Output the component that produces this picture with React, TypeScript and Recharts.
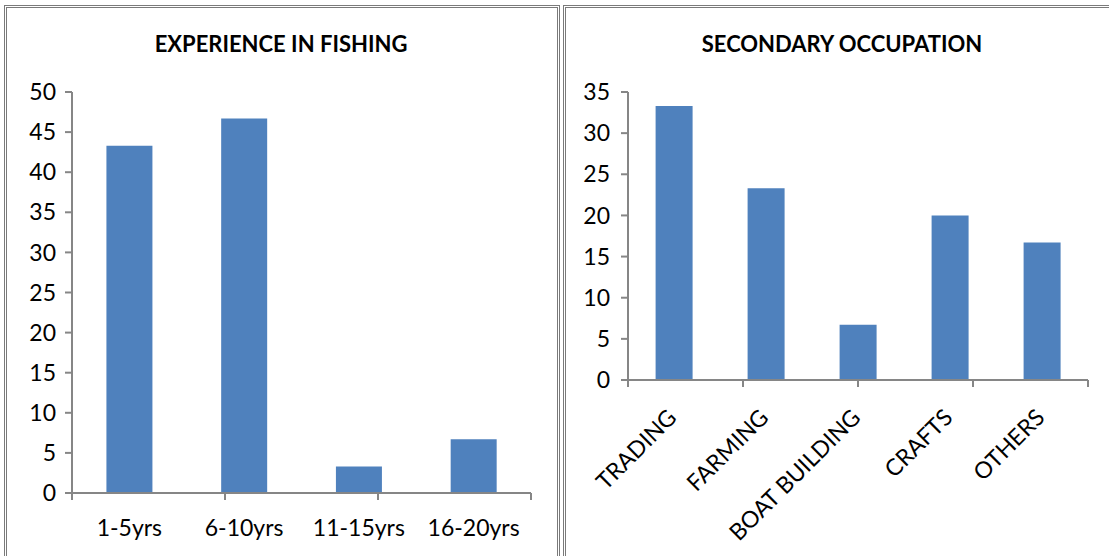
import React from "react";
import { BarChart, Bar, XAxis, YAxis } from "recharts";

// ─── Data ─────────────────────────────────────────────────
const experienceCategories = ["1-5yrs", "6-10yrs", "11-15yrs", "16-20yrs"];
const experienceValues = [43.3, 46.7, 3.3, 6.7];
const experienceTicks = [0, 5, 10, 15, 20, 25, 30, 35, 40, 45, 50];

const occupationCategories = ["TRADING", "FARMING", "BOAT BUILDING", "CRAFTS", "OTHERS"];
const occupationValues = [33.3, 23.3, 6.7, 20.0, 16.7];
const occupationTicks = [0, 5, 10, 15, 20, 25, 30, 35];

// ─── Style ────────────────────────────────────────────────
const FONT = "Lato, 'Open Sans', sans-serif";
const BAR_COLOR = "#4F81BD";
const AXIS_COLOR = "#868686";
const LABEL_SIZE = 23;

const experienceData = experienceCategories.map((name, i) => ({ name, value: experienceValues[i] }));
const occupationData = occupationCategories.map((name, i) => ({ name, value: occupationValues[i] }));

function FlatTick({ x, y, payload }: any) {
  return (
    <text x={x} y={y + 40} textAnchor="middle" fontSize={LABEL_SIZE} fill="#000" fontFamily={FONT}>
      {payload.value}
    </text>
  );
}

function SlantTick({ x, y, payload }: any) {
  const px = x + 4;
  const py = y + 36;
  return (
    <text
      x={px}
      y={py}
      textAnchor="end"
      fontSize={LABEL_SIZE}
      fill="#000"
      fontFamily={FONT}
      transform={`rotate(-45, ${px}, ${py})`}
    >
      {payload.value}
    </text>
  );
}

const emptyTick = () => <g />;

// box + title, drawn over the chart layer
function Panel({ left, width, title, titleX }: { left: number; width: number; title: string; titleX: number }) {
  return (
    <>
      <div
        style={{
          position: "absolute",
          left,
          top: 5,
          width,
          height: 600,
          borderTop: "3px double #7a7a7a",
          borderLeft: "3px double #7a7a7a",
          borderRight: "3px double #7a7a7a",
          boxSizing: "border-box",
          zIndex: 2,
          pointerEvents: "none",
        }}
      />
      <div
        style={{
          position: "absolute",
          left: titleX - 200,
          width: 400,
          top: 31,
          textAlign: "center",
          fontFamily: FONT,
          fontWeight: 700,
          fontSize: 22,
          lineHeight: "26px",
          color: "#000",
          zIndex: 2,
        }}
      >
        {title}
      </div>
    </>
  );
}

function ExperienceChart() {
  const n = experienceCategories.length;
  return (
    <div style={{ position: "absolute", left: 0, top: 0, zIndex: 1 }}>
      <BarChart
        width={560}
        height={556}
        data={experienceData}
        margin={{ top: 92, right: 29, bottom: 22, left: 12 }}
        barCategoryGap="30%"
      >
        <XAxis
          xAxisId={0}
          type="number"
          domain={[0, n]}
          ticks={Array.from({ length: n + 1 }, (_, i) => i)}
          allowDataOverflow
          height={1}
          axisLine={{ stroke: AXIS_COLOR, strokeWidth: 2 }}
          tickLine={{ stroke: AXIS_COLOR, strokeWidth: 2 }}
          tickSize={7}
          tick={emptyTick}
        />
        <XAxis
          xAxisId="cat"
          dataKey="name"
          height={40}
          axisLine={false}
          tickLine={false}
          tickSize={0}
          interval={0}
          tick={<FlatTick />}
        />
        <YAxis
          width={60}
          domain={[0, 50]}
          ticks={experienceTicks}
          interval={0}
          axisLine={{ stroke: AXIS_COLOR, strokeWidth: 2 }}
          tickLine={{ stroke: AXIS_COLOR, strokeWidth: 2 }}
          tickSize={7}
          tickMargin={9}
          tick={{ fontSize: LABEL_SIZE, fill: "#000", fontFamily: FONT }}
        />
        <Bar xAxisId="cat" dataKey="value" fill={BAR_COLOR} isAnimationActive={false} />
      </BarChart>
    </div>
  );
}

function OccupationChart() {
  const n = occupationCategories.length;
  return (
    <div style={{ position: "absolute", left: 560, top: 0, zIndex: 1 }}>
      <BarChart
        width={549}
        height={556}
        data={occupationData}
        margin={{ top: 92, right: 21, bottom: 55, left: 8 }}
        barCategoryGap="30%"
      >
        <XAxis
          xAxisId={0}
          type="number"
          domain={[0, n]}
          ticks={Array.from({ length: n + 1 }, (_, i) => i)}
          allowDataOverflow
          height={1}
          axisLine={{ stroke: AXIS_COLOR, strokeWidth: 2 }}
          tickLine={{ stroke: AXIS_COLOR, strokeWidth: 2 }}
          tickSize={7}
          tick={emptyTick}
        />
        <XAxis
          xAxisId="cat"
          dataKey="name"
          height={120}
          axisLine={false}
          tickLine={false}
          tickSize={0}
          interval={0}
          tick={<SlantTick />}
        />
        <YAxis
          width={60}
          domain={[0, 35]}
          ticks={occupationTicks}
          interval={0}
          axisLine={{ stroke: AXIS_COLOR, strokeWidth: 2 }}
          tickLine={{ stroke: AXIS_COLOR, strokeWidth: 2 }}
          tickSize={7}
          tickMargin={11}
          tick={{ fontSize: LABEL_SIZE, fill: "#000", fontFamily: FONT }}
        />
        <Bar xAxisId="cat" dataKey="value" fill={BAR_COLOR} isAnimationActive={false} />
      </BarChart>
    </div>
  );
}

export default function App() {
  return (
    <div
      style={{
        position: "absolute",
        left: 0,
        top: 0,
        width: 1109,
        height: 556,
        overflow: "hidden",
        background: "#fff",
        fontFamily: FONT,
      }}
    >
      <ExperienceChart />
      <OccupationChart />
      <Panel left={4} width={556} title="EXPERIENCE IN FISHING" titleX={281} />
      <Panel left={563} width={560} title="SECONDARY OCCUPATION" titleX={842} />
    </div>
  );
}
